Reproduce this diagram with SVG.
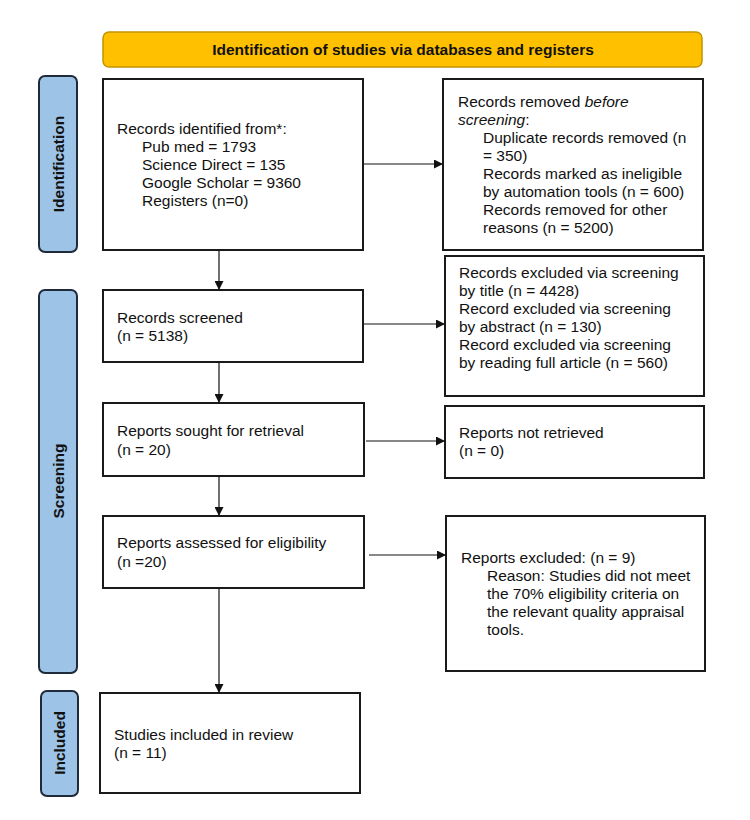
<svg xmlns="http://www.w3.org/2000/svg" width="750" height="820" viewBox="0 0 750 820">
<defs>
<marker id="ah" viewBox="0 0 10 10" refX="10" refY="5" markerWidth="9" markerHeight="9" markerUnits="userSpaceOnUse" orient="auto">
<path d="M0,0 L10,5 L0,10 Z" fill="#111"/>
</marker>
</defs>
<style>
text{font-family:"Liberation Sans",Arial,sans-serif;font-size:15.5px;fill:#111}
.box{fill:#fff;stroke:#1a1a1a;stroke-width:2}
.side{fill:#9dc3e6;stroke:#1f2a3a;stroke-width:2}
.lbl{font-weight:bold;text-anchor:middle}
.edge{stroke:#111;stroke-width:1.2;fill:none;marker-end:url(#ah)}
</style>
<rect width="750" height="820" fill="#fff"/>
<g id="banner">
<rect x="103" y="32" width="599" height="35" rx="6" fill="#ffc000" stroke="#c49400" stroke-width="1.5"/>
<text class="lbl" x="403" y="55">Identification of studies via databases and registers</text>
</g>
<g id="side-identification">
<rect class="side" x="39" y="76" width="38" height="176" rx="6"/>
<text class="lbl" transform="translate(63.5,164) rotate(-90)">Identification</text>
</g>
<g id="side-screening">
<rect class="side" x="39" y="290" width="38" height="383" rx="6"/>
<text class="lbl" transform="translate(63.5,481) rotate(-90)">Screening</text>
</g>
<g id="side-included">
<rect class="side" x="41" y="691" width="37" height="105" rx="6"/>
<text class="lbl" transform="translate(65,743) rotate(-90)">Included</text>
</g>
<g id="identified">
<rect class="box" x="103" y="79" width="260" height="171"/>
<text x="117" y="134">Records identified from*:</text>
<text x="142" y="152">Pub med = 1793</text>
<text x="142" y="170">Science Direct = 135</text>
<text x="142" y="188">Google Scholar = 9360</text>
<text x="142" y="206">Registers (n=0)</text>
</g>
<g id="removed">
<rect class="box" x="443" y="79" width="260" height="171"/>
<text x="458" y="107">Records removed <tspan font-style="italic">before</tspan></text>
<text x="458" y="125"><tspan font-style="italic">screening</tspan>:</text>
<text x="483" y="143">Duplicate records removed (n</text>
<text x="483" y="161">= 350)</text>
<text x="483" y="179">Records marked as ineligible</text>
<text x="483" y="197">by automation tools (n = 600)</text>
<text x="483" y="215">Records removed for other</text>
<text x="483" y="233">reasons (n = 5200)</text>
</g>
<g id="screened">
<rect class="box" x="103" y="290" width="260" height="72"/>
<text x="117" y="323">Records screened</text>
<text x="117" y="341">(n = 5138)</text>
</g>
<g id="excluded-screening">
<rect class="box" x="445" y="256" width="259" height="140"/>
<text x="459" y="278">Records excluded via screening</text>
<text x="459" y="296">by title (n = 4428)</text>
<text x="459" y="314">Record excluded via screening</text>
<text x="459" y="332">by abstract (n = 130)</text>
<text x="459" y="350">Record excluded via screening</text>
<text x="459" y="368">by reading full article (n = 560)</text>
</g>
<g id="sought">
<rect class="box" x="103" y="403" width="261" height="73"/>
<text x="117" y="436">Reports sought for retrieval</text>
<text x="117" y="455">(n = 20)</text>
</g>
<g id="not-retrieved">
<rect class="box" x="445" y="406" width="259" height="72"/>
<text x="459" y="438">Reports not retrieved</text>
<text x="459" y="456">(n = 0)</text>
</g>
<g id="assessed">
<rect class="box" x="103" y="516" width="261" height="72"/>
<text x="117" y="548">Reports assessed for eligibility</text>
<text x="117" y="567">(n =20)</text>
</g>
<g id="reports-excluded">
<rect class="box" x="446" y="516" width="259" height="155"/>
<text x="461" y="563">Reports excluded: (n = 9)</text>
<text x="487" y="581">Reason: Studies did not meet</text>
<text x="487" y="599">the 70% eligibility criteria on</text>
<text x="487" y="617">the relevant quality appraisal</text>
<text x="487" y="635">tools.</text>
</g>
<g id="included">
<rect class="box" x="100" y="693" width="260" height="100"/>
<text x="114" y="740">Studies included in review</text>
<text x="114" y="758">(n = 11)</text>
</g>
<g id="connectors">
<path class="edge" d="M219,250 V290"/>
<path class="edge" d="M363,164 H443"/>
<path class="edge" d="M363,324 H445"/>
<path class="edge" d="M219,362 V403"/>
<path class="edge" d="M366,441 H445"/>
<path class="edge" d="M219,476 V516"/>
<path class="edge" d="M369,555 H446"/>
<path class="edge" d="M219,588 V693"/>
</g>
</svg>
